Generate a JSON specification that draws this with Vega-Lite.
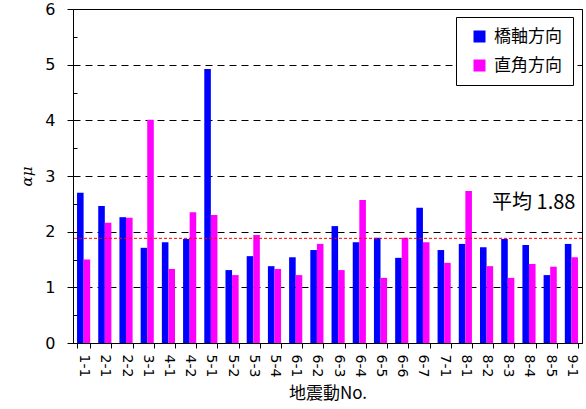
{
  "$schema": "https://vega.github.io/schema/vega-lite/v6.json",
  "width": 509,
  "height": 334,
  "autosize": {"type": "none"},
  "padding": {"left": 73, "top": 9, "right": 4, "bottom": 66},
  "background": "white",
  "config": {
    "font": "Noto Sans CJK JP",
    "view": {"stroke": "black", "strokeWidth": 1},
    "axis": {"domainColor": "black", "tickColor": "black", "labelColor": "black", "titleColor": "black", "titleFontWeight": "normal"}
  },
  "datasets": {
    "bars": [
      {"no": "1-1", "dir": "橋軸方向", "value": 2.70}, {"no": "1-1", "dir": "直角方向", "value": 1.50},
      {"no": "2-1", "dir": "橋軸方向", "value": 2.46}, {"no": "2-1", "dir": "直角方向", "value": 2.16},
      {"no": "2-2", "dir": "橋軸方向", "value": 2.26}, {"no": "2-2", "dir": "直角方向", "value": 2.25},
      {"no": "3-1", "dir": "橋軸方向", "value": 1.71}, {"no": "3-1", "dir": "直角方向", "value": 4.01},
      {"no": "4-1", "dir": "橋軸方向", "value": 1.81}, {"no": "4-1", "dir": "直角方向", "value": 1.33},
      {"no": "4-2", "dir": "橋軸方向", "value": 1.87}, {"no": "4-2", "dir": "直角方向", "value": 2.35},
      {"no": "5-1", "dir": "橋軸方向", "value": 4.92}, {"no": "5-1", "dir": "直角方向", "value": 2.30},
      {"no": "5-2", "dir": "橋軸方向", "value": 1.31}, {"no": "5-2", "dir": "直角方向", "value": 1.22},
      {"no": "5-3", "dir": "橋軸方向", "value": 1.56}, {"no": "5-3", "dir": "直角方向", "value": 1.94},
      {"no": "5-4", "dir": "橋軸方向", "value": 1.38}, {"no": "5-4", "dir": "直角方向", "value": 1.33},
      {"no": "6-1", "dir": "橋軸方向", "value": 1.54}, {"no": "6-1", "dir": "直角方向", "value": 1.22},
      {"no": "6-2", "dir": "橋軸方向", "value": 1.67}, {"no": "6-2", "dir": "直角方向", "value": 1.78},
      {"no": "6-3", "dir": "橋軸方向", "value": 2.10}, {"no": "6-3", "dir": "直角方向", "value": 1.31},
      {"no": "6-4", "dir": "橋軸方向", "value": 1.81}, {"no": "6-4", "dir": "直角方向", "value": 2.57},
      {"no": "6-5", "dir": "橋軸方向", "value": 1.89}, {"no": "6-5", "dir": "直角方向", "value": 1.17},
      {"no": "6-6", "dir": "橋軸方向", "value": 1.53}, {"no": "6-6", "dir": "直角方向", "value": 1.89},
      {"no": "6-7", "dir": "橋軸方向", "value": 2.43}, {"no": "6-7", "dir": "直角方向", "value": 1.81},
      {"no": "7-1", "dir": "橋軸方向", "value": 1.67}, {"no": "7-1", "dir": "直角方向", "value": 1.44},
      {"no": "8-1", "dir": "橋軸方向", "value": 1.78}, {"no": "8-1", "dir": "直角方向", "value": 2.73},
      {"no": "8-2", "dir": "橋軸方向", "value": 1.72}, {"no": "8-2", "dir": "直角方向", "value": 1.38},
      {"no": "8-3", "dir": "橋軸方向", "value": 1.87}, {"no": "8-3", "dir": "直角方向", "value": 1.17},
      {"no": "8-4", "dir": "橋軸方向", "value": 1.76}, {"no": "8-4", "dir": "直角方向", "value": 1.42},
      {"no": "8-5", "dir": "橋軸方向", "value": 1.22}, {"no": "8-5", "dir": "直角方向", "value": 1.37},
      {"no": "9-1", "dir": "橋軸方向", "value": 1.78}, {"no": "9-1", "dir": "直角方向", "value": 1.54}
    ],
    "mean": [{"mean": 1.88}],
    "label": [{"no": "9-1", "y": 2.51, "text": "平均 1.88"}]
  },
  "layer": [
    {
      "data": {"name": "bars"},
      "mark": {"type": "bar"},
      "encoding": {
        "x": {
          "field": "no", "type": "nominal", "sort": null,
          "scale": {"paddingInner": 0.38, "paddingOuter": 0.19},
          "axis": {"labelAngle": 90, "labelFont": "DejaVu Sans", "labelFontSize": 14, "tickBand": "extent", "tickSize": 5, "labelPadding": 6,
                   "title": "地震動No.", "titleFontSize": 17, "titlePadding": 9}
        },
        "xOffset": {"field": "dir", "type": "nominal", "sort": ["橋軸方向", "直角方向"]},
        "y": {
          "field": "value", "type": "quantitative",
          "scale": {"domain": [0, 6], "nice": false},
          "axis": {"values": [0, 1, 2, 3, 4, 5, 6], "tickSize": 6, "labelPadding": 12, "labelFont": "DejaVu Sans", "labelFontSize": 16,
                   "grid": true, "gridColor": "black", "gridDash": [7, 5], "gridWidth": 1, "gridOpacity": 1,
                   "title": "αμ", "titleFont": "DejaVu Serif", "titleFontStyle": "italic", "titleFontSize": 15, "titlePadding": 10}
        },
        "color": {
          "field": "dir", "type": "nominal",
          "scale": {"domain": ["橋軸方向", "直角方向"], "range": ["#0000ff", "#ff00ff"]},
          "legend": {
            "title": null, "orient": "none", "legendX": 383, "legendY": 8,
            "fillColor": "white", "strokeColor": "black", "padding": 11, "cornerRadius": 0,
            "symbolType": "square", "symbolSize": 144, "symbolStrokeWidth": 0, "symbolOffset": 4,
            "labelFontSize": 17, "labelColor": "black", "rowPadding": 11, "labelOffset": 6
          }
        }
      }
    },
    {
      "data": {"name": "mean"},
      "mark": {"type": "rule", "color": "red", "strokeDash": [3, 2], "strokeWidth": 1},
      "encoding": {
        "y": {"field": "mean", "type": "quantitative",
              "axis": {"orient": "left", "values": [0.5, 1.5, 2.5, 3.5, 4.5, 5.5], "labels": false, "domain": false,
                       "grid": false, "tickSize": -4, "title": null}}
      }
    },
    {
      "data": {"name": "label"},
      "mark": {"type": "text", "align": "right", "baseline": "middle", "fontSize": 20, "color": "black", "dx": 4},
      "encoding": {
        "x": {"field": "no", "type": "nominal", "sort": null},
        "y": {"field": "y", "type": "quantitative", "axis": null},
        "text": {"field": "text"}
      }
    }
  ],
  "resolve": {"axis": {"y": "independent"}}
}
